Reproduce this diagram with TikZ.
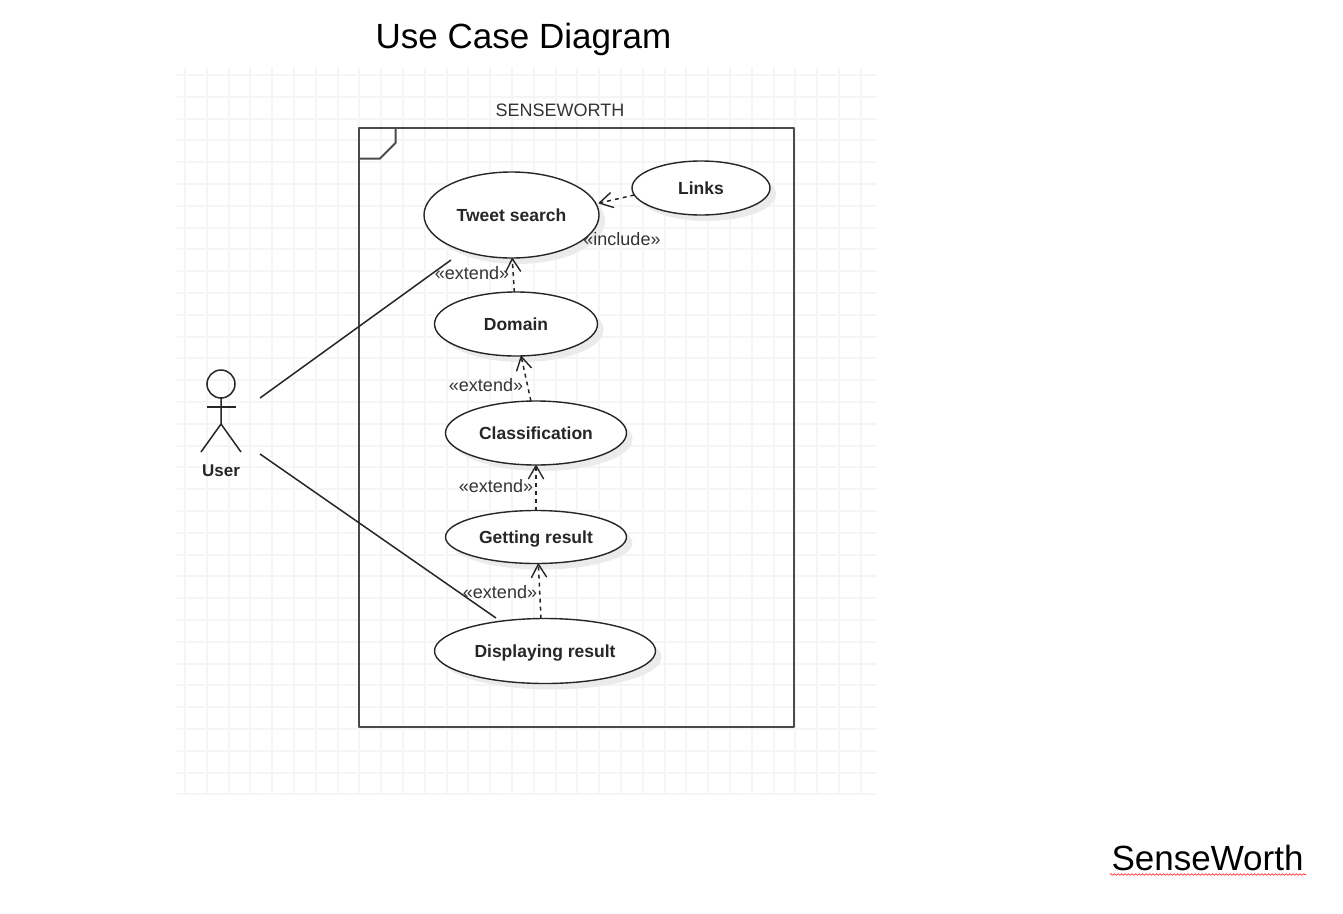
\documentclass[tikz,border=0pt]{standalone}
\usepackage{fontspec}
\setmainfont{Liberation Sans}
\usetikzlibrary{arrows.meta,shapes.geometric,shadows,decorations.pathmorphing}
\definecolor{gridgray}{HTML}{F5F5F5}
\definecolor{framegray}{HTML}{4A4A4A}
\definecolor{textgray}{HTML}{333333}
\begin{document}
\begin{tikzpicture}[x=1pt,y=-1pt,thick,
    case node/.style={ellipse,draw=black!85,line width=1.4pt,fill=white,inner sep=0pt,outer sep=0pt,text=black!85,
        text height=12.7pt,text depth=0pt,
        font=\bfseries\fontsize{17.5}{20}\selectfont,
        drop shadow={shadow xshift=6pt,shadow yshift=-6pt,fill=black!8,opacity=1}},
    tag node/.style={text=textgray,inner sep=0pt,font=\fontsize{18}{20}\selectfont},
    big node/.style={inner sep=0pt,font=\fontsize{35}{40}\selectfont},
    dep/.style={black!85,line width=1.5pt,dash pattern=on 4pt off 4pt,-{Straight Barb[length=13pt,width=15pt,line width=1.4pt,round]}},
    assoc/.style={black!85,line width=1.5pt},
    gridline/.style={gridgray,line width=2pt}]

    \useasboundingbox (0,0) rectangle (1343,913);

    \foreach \k in {0,...,31} \draw[gridline] ({round(185+21.8*\k)},67) -- ({round(185+21.8*\k)},795);
    \foreach \k in {0,...,33} \draw[gridline] (177,{round(75+21.8*\k)}) -- (877,{round(75+21.8*\k)});

    \node[big node] at (523.5,39) (title) {Use Case Diagram};
    \node[big node] at (1207.5,858) (brand) {SenseWorth};
    \draw[red!80,line width=0.7pt,decorate,decoration={snake,amplitude=0.8pt,segment length=3.5pt}]
        (1110,874.5) -- (1306,874.5);

    % system frame
    \draw[framegray,line width=2pt,line join=round] (358.5,128) rectangle (794,727);
    \draw[framegray,line width=2pt,line join=round] (358.5,158.5) -- (380,158.5) -- (395.5,143) -- (395.5,128);
    \node[tag node] at (560,110) (system) {SENSEWORTH};

    % use cases
    \node[case node,minimum width=175pt,minimum height=86pt] at (511.5,215) (tweet) {Tweet search};
    \node[case node,minimum width=138pt,minimum height=54pt] at (701,188) (links) {Links};
    \node[case node,minimum width=163pt,minimum height=64pt] at (516,324) (domain) {Domain};
    \node[case node,minimum width=181pt,minimum height=64pt] at (536,433) (classif) {Classification};
    \node[case node,minimum width=181pt,minimum height=53pt] at (536,537) (getting) {Getting result};
    \node[case node,minimum width=221pt,minimum height=65pt] at (545,651) (display) {Displaying result};

    % actor
    \node[circle,draw=black!85,line width=1.5pt,minimum size=28pt,inner sep=0pt,outer sep=0pt] at (221,384) (head) {};
    \coordinate (hip) at (221,424);
    \coordinate (armL) at (207,407);
    \coordinate (armR) at (236,407);
    \coordinate (legL) at (201,452);
    \coordinate (legR) at (241,452);
    \node[tag node,text=black!85,font=\bfseries\fontsize{17}{20}\selectfont,text height=12.2pt,text depth=0pt] at (221,470) (user) {User};
    \draw[assoc] (head.south) -- (hip) -- (legL);
    \draw[assoc] (hip) -- (legR);
    \draw[assoc] (armL) -- (armR);

    % associations
    \coordinate (userA) at (260,398);
    \coordinate (userB) at (260,454);
    \coordinate (tweetEnd) at (451,260);
    \coordinate (displayEnd) at (496,618);
    \draw[assoc] (userA) -- (tweetEnd);
    \draw[assoc] (userB) -- (displayEnd);

    % dependencies
    \path (links.186) edge[dep] ([xshift=3pt]tweet.8);
    \path (domain.93) edge[dep] (tweet.-89);
    \path (classif.99) edge[dep] (domain.-81);
    \path (getting.north) edge[dep] (classif.south);
    \path (display.97) edge[dep] (getting.-85);

    \node[tag node] at (622,239) (include) {«include»};
    \node[tag node] at (472,273) (extA) {«extend»};
    \node[tag node] at (486,385) (extB) {«extend»};
    \node[tag node] at (496,486) (extC) {«extend»};
    \node[tag node] at (500,592) (extD) {«extend»};
\end{tikzpicture}
\end{document}
